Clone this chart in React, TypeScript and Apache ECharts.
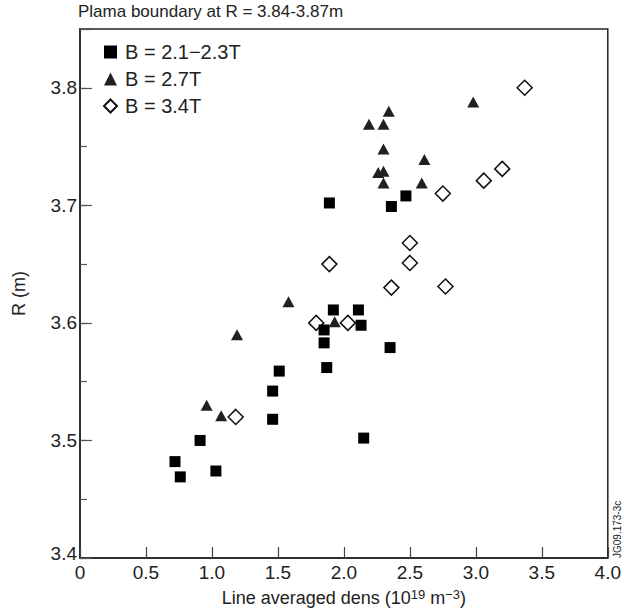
import React, { useEffect, useRef } from "react";
import * as echarts from "echarts";

const xTicks = [0, 0.5, 1.0, 1.5, 2.0, 2.5, 3.0, 3.5, 4.0];
const yTickLabels = ["3.4", "3.5", "3.6", "3.7", "3.8"];

const seriesNames = ["B = 2.1\u22122.3T", "B = 2.7T", "B = 3.4T"];

const squares: [number, number][] = [
  [1.89, 3.702], [2.47, 3.708], [2.36, 3.699], [1.92, 3.611], [2.11, 3.611],
  [2.13, 3.598], [1.85, 3.594], [1.85, 3.583], [1.87, 3.562], [1.51, 3.559],
  [1.46, 3.542], [1.46, 3.518], [2.15, 3.502], [0.91, 3.5], [0.72, 3.482],
  [1.03, 3.474], [0.76, 3.469], [2.35, 3.579],
];

const triangles: [number, number][] = [
  [2.98, 3.788], [2.34, 3.78], [2.19, 3.769], [2.3, 3.769], [2.3, 3.748],
  [2.61, 3.739], [2.26, 3.728], [2.3, 3.729], [2.3, 3.719], [2.59, 3.719],
  [1.58, 3.618], [1.93, 3.601], [1.19, 3.59], [0.96, 3.53], [1.07, 3.521],
];

const diamonds: [number, number][] = [
  [3.37, 3.8], [3.2, 3.731], [3.06, 3.721], [2.75, 3.71], [2.5, 3.668],
  [2.5, 3.651], [1.89, 3.65], [2.36, 3.63], [2.77, 3.631], [1.79, 3.6],
  [2.03, 3.6], [1.18, 3.52],
];

const FONT = "'Liberation Sans', Arial, Helvetica, sans-serif";
const TXT = "#222";

export default function App() {
  const ref = useRef<HTMLDivElement>(null);
  useEffect(() => {
    if (!ref.current) return;
    const chart = echarts.init(ref.current, null, { renderer: "svg" });
    const yLabelFmt = (v: number) => {
      const s = (Math.round(v * 100) / 100).toFixed(1);
      if (!(yTickLabels.includes(s) && Math.abs(v * 10 - Math.round(v * 10)) < 1e-6)) return "";
      return s === yTickLabels[0] ? "{low|" + s + "}" : s;
    };
    chart.setOption({
      animation: false,
      textStyle: { fontFamily: FONT },
      title: {
        text: "Plama boundary at R = 3.84-3.87m",
        left: 78,
        top: 3,
        padding: 0,
        textStyle: { fontSize: 17, fontWeight: "normal", color: TXT, fontFamily: FONT },
      },
      legend: {
        orient: "vertical",
        left: 103,
        top: 42,
        padding: 0,
        itemWidth: 13,
        itemHeight: 13,
        itemGap: 7,
        textStyle: { fontSize: 20, color: TXT, fontFamily: FONT, padding: [0, 0, 0, 3] },
        data: seriesNames,
      },
      grid: { left: 80, right: 15, top: 29, bottom: 57, show: true, borderColor: "#222", borderWidth: 1.5 },
      xAxis: {
        type: "value",
        min: 0,
        max: 4,
        interval: 0.5,
        splitLine: { show: false },
        axisLine: { lineStyle: { color: "#222", width: 1.5 } },
        axisTick: { inside: true, length: 11, lineStyle: { color: "#444", width: 1.2 } },
        axisLabel: {
          margin: 5,
          fontSize: 19,
          color: TXT,
          fontFamily: FONT,
          formatter: (v: number) => {
            const t = xTicks.find((x) => Math.abs(x - v) < 1e-6);
            return t === undefined ? "" : t === 0 ? "0" : t.toFixed(1);
          },
        },
        name: "Line averaged dens (10{sup|19} m{sup|\u22123})",
        nameLocation: "middle",
        nameGap: 30,
        nameTextStyle: {
          fontSize: 18,
          color: TXT,
          fontFamily: FONT,
          rich: {
            sup: { fontSize: 13, verticalAlign: "top", color: TXT, fontFamily: FONT, padding: [0, 0, 6, 0] },
          },
        },
      },
      yAxis: [
        {
          type: "value",
          min: 3.4,
          max: 3.85,
          interval: 0.05,
          splitLine: { show: false },
          axisLine: { lineStyle: { color: "#222", width: 1.5 } },
          axisTick: { inside: true, length: 7, lineStyle: { color: "#555", width: 1.2 } },
          axisLabel: {
            margin: 3,
            fontSize: 19,
            color: TXT,
            fontFamily: FONT,
            showMaxLabel: false,
            formatter: yLabelFmt,
            rich: { low: { fontSize: 19, color: TXT, fontFamily: FONT, padding: [0, 0, 10, 0] } },
          },
          name: "R (m)",
          nameLocation: "middle",
          nameGap: 52,
          nameTextStyle: { fontSize: 18, color: TXT, fontFamily: FONT },
        },
        {
          type: "value",
          position: "left",
          offset: 0,
          min: 3.4,
          max: 3.85,
          interval: 0.1,
          splitLine: { show: false },
          axisLine: { show: false },
          axisTick: { inside: true, length: 12, lineStyle: { color: "#555", width: 1.2 } },
          axisLabel: { show: false },
        },
      ],
      series: [
        {
          name: seriesNames[0],
          type: "scatter",
          symbol: "rect",
          symbolSize: 11,
          itemStyle: { color: "#000", opacity: 1 },
          data: squares,
          z: 3,
        },
        {
          name: seriesNames[1],
          type: "scatter",
          symbol: "triangle",
          symbolSize: [12, 11],
          itemStyle: { color: "#231f20", opacity: 1 },
          data: triangles,
          z: 4,
        },
        {
          name: seriesNames[2],
          type: "scatter",
          symbol: "diamond",
          symbolSize: 15,
          itemStyle: { color: "#fff", borderColor: "#111", borderWidth: 1.5, opacity: 1 },
          data: diamonds,
          z: 2,
        },
      ],
      graphic: [
        {
          type: "text",
          x: 612,
          y: 558,
          rotation: Math.PI / 2,
          style: { text: "JG09.173-3c", fontSize: 10, fill: TXT, fontFamily: FONT, textVerticalAlign: "top" },
        },
      ],
    });
    return () => chart.dispose();
  }, []);
  return <div ref={ref} style={{ width: 624, height: 615, position: "absolute", left: 0, top: 0 }} />;
}
